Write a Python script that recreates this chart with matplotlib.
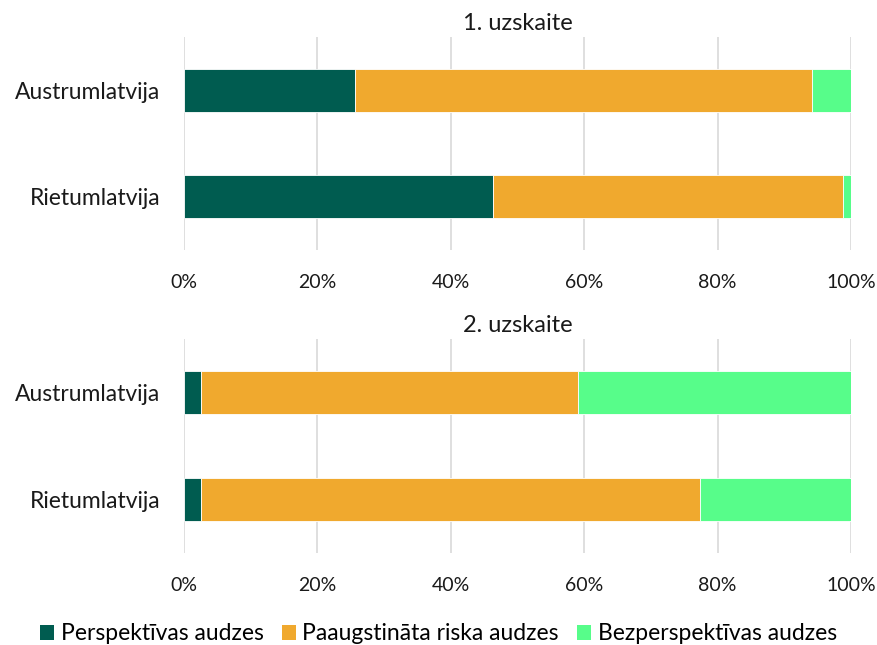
import matplotlib
matplotlib.use("Agg")
import matplotlib.pyplot as plt
from matplotlib.ticker import PercentFormatter
from matplotlib.patches import Patch

plt.rcParams['font.family'] = ['Lato', 'DejaVu Sans']

regions = ["Austrumlatvija", "Rietumlatvija"]
series_names = ["Perspektīvas audzes", "Paaugstināta riska audzes", "Bezperspektīvas audzes"]
colors = ["#005C50", "#F0A92E", "#57FD8A"]

# shares (%) per survey: rows = regions, values per series
survey1_perspektivas = [25.7, 46.4]
survey1_riska = [68.5, 52.4]
survey1_bezperspektivas = [5.8, 1.2]

survey2_perspektivas = [2.5, 2.5]
survey2_riska = [56.6, 74.9]
survey2_bezperspektivas = [40.9, 22.6]

titles = ["1. uzskaite", "2. uzskaite"]
ticks = [0, 20, 40, 60, 80, 100]

surveys = [
    [survey1_perspektivas, survey1_riska, survey1_bezperspektivas],
    [survey2_perspektivas, survey2_riska, survey2_bezperspektivas],
]

W, H = 877, 645
fig = plt.figure(figsize=(W / 100, H / 100), dpi=100)

axes_px = [(37, 250), (339, 553)]
left, right = 184, 851
for (top, bottom), title, data in zip(axes_px, titles, surveys):
    ax = fig.add_axes([left / W, 1 - bottom / H, (right - left) / W, (bottom - top) / H])
    base = [0.0] * len(regions)
    for vals, col in zip(data, colors):
        ax.barh(range(len(regions)), vals, left=base, height=0.4, color=col,
                edgecolor="white", linewidth=0.6, zorder=3)
        base = [b + v for b, v in zip(base, vals)]
    ax.set_xlim(0, 100)
    ax.set_ylim(1.5, -0.5)
    ax.set_yticks(range(len(regions)))
    ax.set_yticklabels(regions, fontsize=16.5, color="#1a1a1a")
    ax.set_xticks(ticks)
    ax.xaxis.set_major_formatter(PercentFormatter(decimals=0))
    ax.tick_params(axis="x", length=0, pad=17, labelsize=14, labelcolor="#1a1a1a")
    ax.tick_params(axis="y", length=0, pad=17)
    ax.grid(axis="x", color="#D9D9D9", linewidth=1.2, zorder=0)
    for s in ax.spines.values():
        s.set_visible(False)
    ax.set_title(title, fontsize=17, color="#1a1a1a", pad=5)

handles = [Patch(facecolor=c, edgecolor="none") for c in colors]
fig.legend(handles, series_names, loc="center", bbox_to_anchor=(0.5, 1 - 634 / H),
           ncol=3, frameon=False, fontsize=16.5, handlelength=0.6, handleheight=0.6,
           handletextpad=0.3, columnspacing=0.8)

fig.savefig("out.png", dpi=100, facecolor="white")
